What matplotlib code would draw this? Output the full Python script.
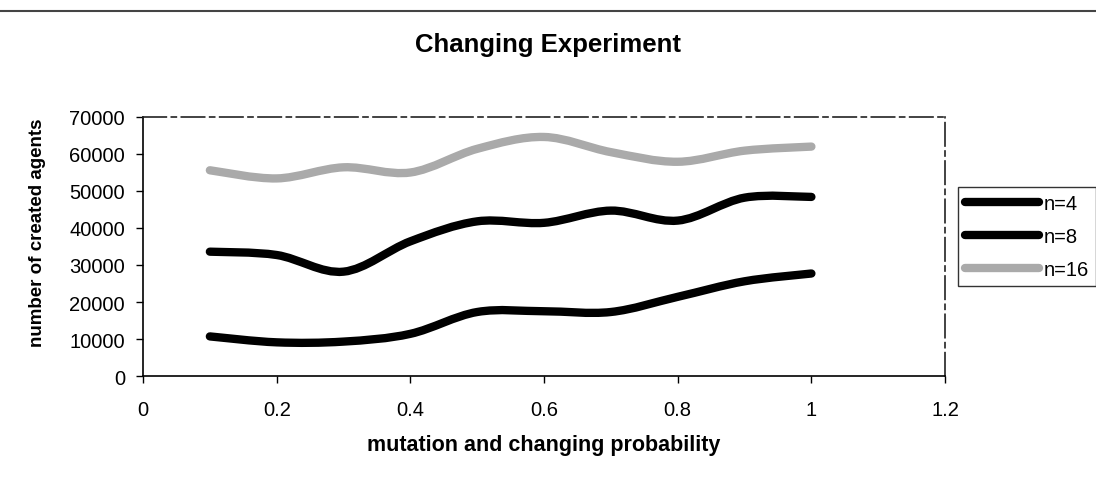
import numpy as np
import matplotlib
matplotlib.use('Agg')
import matplotlib.pyplot as plt
from matplotlib.path import Path
from matplotlib.patches import PathPatch
from matplotlib.lines import Line2D

plt.rcParams['font.family'] = ['Liberation Sans', 'DejaVu Sans']

# Data
prob = [0.1, 0.2, 0.3, 0.4, 0.5, 0.6, 0.7, 0.8, 0.9, 1.0]
n4 = [10700, 9100, 9300, 11400, 17300, 17500, 17300, 21400, 25600, 27700]
n8 = [33600, 32700, 28200, 36400, 41800, 41400, 44700, 42000, 48200, 48400]
n16 = [55600, 53400, 56400, 55000, 61400, 64600, 60500, 57900, 60900, 62000]

series = [
    ('n=4', n4, 'black'),
    ('n=8', n8, 'black'),
    ('n=16', n16, '#aaaaaa'),
]


def smooth_path(xs, ys):
    # Excel-style smoothed line: cubic Bezier segments through each point
    pts = np.column_stack([xs, ys]).astype(float)
    n = len(pts)
    verts = [pts[0]]
    codes = [Path.MOVETO]
    for i in range(n - 1):
        p_prev = pts[i - 1] if i > 0 else pts[i]
        p_next2 = pts[i + 2] if i + 2 < n else pts[i + 1]
        c1 = pts[i] + (pts[i + 1] - p_prev) / 6.0
        c2 = pts[i + 1] - (p_next2 - pts[i]) / 6.0
        verts += [c1, c2, pts[i + 1]]
        codes += [Path.CURVE4] * 3
    return Path(verts, codes)


fig = plt.figure(figsize=(10.96, 4.81), dpi=100)
ax = fig.add_axes([0.1305, 0.2162, 0.7318, 0.5385])

handles = []
for label, vals, color in series:
    patch = PathPatch(smooth_path(prob, vals), facecolor='none', edgecolor=color,
                      linewidth=6, capstyle='round', joinstyle='round')
    ax.add_patch(patch)
    handles.append(Line2D([], [], color=color, linewidth=6, solid_capstyle='round', label=label))

ax.set_xlim(0, 1.2)
ax.set_ylim(0, 70000)
ax.set_xticks([0, 0.2, 0.4, 0.6, 0.8, 1.0, 1.2])
ax.set_xticklabels(['0', '0.2', '0.4', '0.6', '0.8', '1', '1.2'])
ax.set_yticks(range(0, 70001, 10000))
ax.tick_params(axis='both', direction='out', length=5, width=1, labelsize=14.5, colors='black')
ax.tick_params(axis='x', pad=12)
ax.tick_params(axis='y', pad=8)

for side in ['left', 'bottom']:
    ax.spines[side].set_linewidth(1.2)
for side in ['top', 'right']:
    ax.spines[side].set_linewidth(1.2)
    ax.spines[side].set_linestyle((0, (14, 3, 3, 3)))
    ax.spines[side].set_color('#222222')

ax.set_xlabel('mutation and changing probability', fontsize=15.5, fontweight='bold')
ax.xaxis.set_label_coords(0.5, -0.222)
ax.set_ylabel('number of created agents', fontsize=13.5, fontweight='bold')
ax.yaxis.set_label_coords(-0.121, 0.556)

fig.text(0.5, 0.907, 'Changing Experiment', ha='center', va='center',
         fontsize=18.5, fontweight='bold')

# rule across the top of the page
fig.add_artist(Line2D([0, 1], [0.975, 0.975], color='#444444', linewidth=1.5,
                      transform=fig.transFigure))

leg = fig.legend(handles=handles, loc='upper left', bbox_to_anchor=(0.874, 0.609),
                 frameon=True, fancybox=False, edgecolor='black', fontsize=14.5,
                 handlelength=3.7, handletextpad=0.2, labelspacing=0.7,
                 borderpad=0.35, borderaxespad=0)
leg.get_frame().set_linewidth(1.0)

fig.savefig('out.png', dpi=100)
